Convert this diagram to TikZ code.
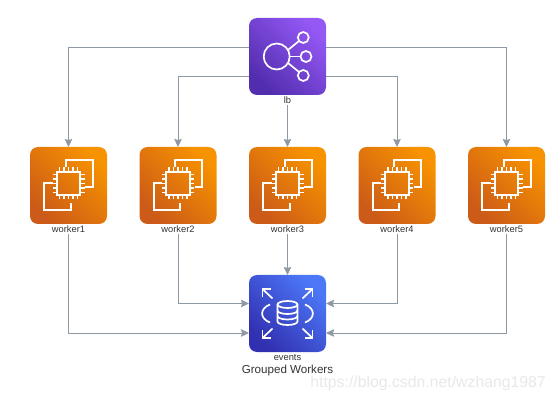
\documentclass[tikz,border=0pt]{standalone}
\usepackage{fontspec}
\setmainfont{Liberation Sans}
\usepackage{xcolor}
\usetikzlibrary{arrows.meta, positioning, calc}

\definecolor{connline}{HTML}{8E99A3}
\definecolor{labeltext}{HTML}{333333}
\definecolor{ec2light}{HTML}{F79200}
\definecolor{ec2dark}{HTML}{CC5A18}
\definecolor{elblight}{HTML}{9458F5}
\definecolor{elbdark}{HTML}{522DAE}
\definecolor{rdslight}{HTML}{4C78F8}
\definecolor{rdsdark}{HTML}{3130B0}

\tikzset{
  pics/chipicon/.style={code={
    \draw[iconline] (-2.7,-18) -- (-2.7,-25.3) -- (24.3,-25.3) -- (24.3,1.3) -- (16.7,1.3);
    \draw[iconline] (2.3,18) -- (2.3,24.7) -- (-24.3,24.7) -- (-24.3,-2.7) -- (-16,-2.7);
    \draw[iconline] (-11.7,-13.7) rectangle (11.7,9.7);
    \foreach \p in {-9,-4.5,0,4.5,9} {
      \draw[iconline] (\p,-13.7) -- (\p,-18);
      \draw[iconline] (\p,9.7) -- (\p,14);
      \draw[iconline] (-11.7,\p-2) -- (-16,\p-2);
      \draw[iconline] (11.7,\p-2) -- (16,\p-2);
    }
  }},
  pics/fanicon/.style={code={
    \draw[iconline] (-10.8,0) circle (13);
    \draw[iconline] (15.8,-19) circle (5.5);
    \draw[iconline] (18.5,0) circle (5.5);
    \draw[iconline] (15.8,19) circle (5.5);
    \draw[iconline] (0.5,-6.5) -- (11.5,-15.5);
    \draw[iconline] (2.2,0) -- (13,0);
    \draw[iconline] (0.5,6.5) -- (11.5,15.5);
  }},
  pics/dbicon/.style={code={
    \draw[iconline] (-10,-9) -- (-10,8) arc[start angle=180, end angle=0, x radius=10, y radius=3.5] -- (10,-9);
    \draw[iconline] (0,-9) ellipse (10 and 3.5);
    \draw[iconline] (-10,-3) arc[start angle=180, end angle=0, x radius=10, y radius=3.5];
    \draw[iconline] (-10,2.5) arc[start angle=180, end angle=0, x radius=10, y radius=3.5];
    \foreach \sx/\sy in {-1/-1,1/-1,-1/1,1/1} {
      \draw[iconline] (\sx*15,\sy*15) -- (\sx*25,\sy*24.5);
      \draw[iconline] (\sx*25,\sy*16.5) -- (\sx*25,\sy*24.5) -- (\sx*17,\sy*24.5);
    }
    \draw[iconline] (-17.5,-9) .. controls (-28,-5) and (-28,5) .. (-17.5,9);
    \draw[iconline] (17.5,-9) .. controls (28,-5) and (28,5) .. (17.5,9);
  }}
}

\begin{document}
\begin{tikzpicture}[
  x=1pt, y=-1pt,
  node distance=52pt and 32.5pt,
  iconline/.style={draw=white, line width=1.7pt},
  awsbox/.style={rectangle, rounded corners=8pt, minimum size=77pt, inner sep=0pt, outer sep=0pt},
  ec2box/.style={awsbox, top color=ec2light, bottom color=ec2dark, shading angle=-45},
  elbbox/.style={awsbox, top color=elblight, bottom color=elbdark, shading angle=-45},
  rdsbox/.style={awsbox, top color=rdslight, bottom color=rdsdark, shading angle=-45},
  boxlabel/.style={font=\fontsize{9.3}{11}\selectfont, text=labeltext, inner sep=1pt},
  arrow/.style={draw=connline, line width=1pt, -{Stealth[length=8pt, width=7.5pt, inset=1pt]}}
]
\useasboundingbox (0,0) rectangle (555,401);

\node (lb) [elbbox] at (287.5,56.5) {};
\node (worker3) [ec2box, below=52pt of lb] {};
\node (worker2) [ec2box, left=32.5pt of worker3] {};
\node (worker1) [ec2box, left=32.5pt of worker2] {};
\node (worker4) [ec2box, right=32.5pt of worker3] {};
\node (worker5) [ec2box, right=32.5pt of worker4] {};
\node (events) [rdsbox, below=51pt of worker3] {};

\node (lblb) [boxlabel, below=1pt of lb] {lb};
\node (lbworker1) [boxlabel, below=1pt of worker1] {worker1};
\node (lbworker2) [boxlabel, below=1pt of worker2] {worker2};
\node (lbworker3) [boxlabel, below=1pt of worker3] {worker3};
\node (lbworker4) [boxlabel, below=1pt of worker4] {worker4};
\node (lbworker5) [boxlabel, below=1pt of worker5] {worker5};
\node (lbevents) [boxlabel, below=1pt of events] {events};
\node (title) [boxlabel, font=\fontsize{11.6}{13}\selectfont, below=2.5pt of lbevents] {Grouped Workers};
\node (mark) [font=\fontsize{15.8}{18}\selectfont, text=black!9, inner sep=0pt, anchor=east] at (546,383) {https://blog.csdn.net/wzhang1987};

\pic at (lb) {fanicon};
\foreach \w in {worker1,worker2,worker3,worker4,worker5} {
  \pic at (\w) {chipicon};
}
\pic at (events) {dbicon};

\draw [arrow] ([yshift=8.5pt]lb.west) -| (worker1);
\draw [arrow] ([yshift=-20.5pt]lb.west) -| (worker2);
\draw [arrow] (lblb) -- (worker3);
\draw [arrow] ([yshift=-20.5pt]lb.east) -| (worker4);
\draw [arrow] ([yshift=8.5pt]lb.east) -| (worker5);
\draw [arrow] (lbworker1) |- ([yshift=-19.5pt]events.west);
\draw [arrow] (lbworker2) |- ([yshift=10pt]events.west);
\draw [arrow] (lbworker3) -- (events);
\draw [arrow] (lbworker4) |- ([yshift=10pt]events.east);
\draw [arrow] (lbworker5) |- ([yshift=-19.5pt]events.east);
\end{tikzpicture}
\end{document}
